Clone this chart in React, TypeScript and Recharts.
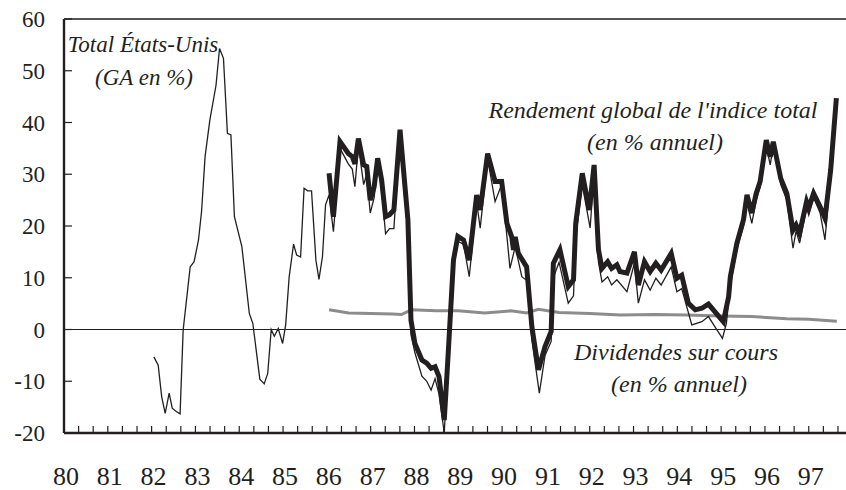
import React from 'react';
import { LineChart, Line, XAxis, YAxis, ReferenceLine } from 'recharts';

// Total Etats-Unis (GA en %) - thin line
const totalYears = [
  82.05, 82.15, 82.23, 82.31, 82.40, 82.47, 82.57, 82.65, 82.72, 82.88, 82.97,
  83.07, 83.14, 83.22, 83.33, 83.47, 83.55, 83.64, 83.73, 83.81, 83.89,
  84.06, 84.23, 84.31, 84.47, 84.57, 84.65, 84.73, 84.80, 84.89, 84.99,
  85.06, 85.14, 85.24, 85.31, 85.40, 85.48, 85.56, 85.65, 85.75, 85.82, 85.90, 85.97,
  86.05, 86.15, 86.30, 86.49, 86.58, 86.64, 86.72, 86.84, 86.91, 86.99,
  87.08, 87.16, 87.25, 87.34, 87.43, 87.53, 87.67, 87.77, 87.85, 87.92,
  88.01, 88.17, 88.28, 88.38, 88.47, 88.56, 88.68, 88.77, 88.89, 88.99,
  89.12, 89.25, 89.42, 89.50, 89.67, 89.84, 89.99,
  90.11, 90.18, 90.30, 90.45, 90.56, 90.68, 90.85, 90.98,
  91.12, 91.17, 91.30, 91.51, 91.63, 91.68, 91.83, 92.01,
  92.10, 92.20, 92.28, 92.41, 92.50, 92.62, 92.85,
  93.02, 93.11, 93.25, 93.38, 93.51, 93.63, 93.86, 93.99,
  94.10, 94.33, 94.56, 94.71, 94.86, 95.03,
  95.12, 95.21, 95.36, 95.51, 95.59, 95.70, 95.80, 95.89,
  96.03, 96.12, 96.19, 96.36, 96.50, 96.64, 96.71, 96.79, 96.95,
  97.00, 97.11, 97.26, 97.37, 97.50, 97.63,
];
const totalValues = [
  -5.3, -6.9, -13.0, -16.2, -12.3, -15.2, -15.9, -16.3, -0.1, 12.1, 13.1,
  17.3, 22.8, 33.4, 40.5, 47.2, 54.3, 52.4, 37.9, 37.6, 21.8,
  16.0, 3.1, 1.2, -9.6, -10.5, -8.5, 0.0, -1.3, 0.2, -2.7,
  0.9, 10.2, 16.5, 14.4, 14.0, 27.3, 26.8, 26.8, 13.4, 9.7, 14.1, 24.1,
  26.0, 18.9, 35.0, 32.0, 31.0, 27.6, 35.5, 28.0, 30.0, 22.5,
  25.5, 32.0, 27.0, 18.5, 19.5, 19.5, 37.5, 26.0, 19.0, -1.0,
  -4.5, -9.0, -10.0, -11.7, -9.5, -12.5, -20.0, -6.0, 12.0, 17.0,
  16.5, 10.2, 24.5, 19.6, 33.0, 24.7, 28.0,
  18.0, 11.8, 16.0, 10.2, 9.5, -2.0, -12.3, -5.0,
  -2.3, 10.0, 13.0, 5.1, 6.5, 17.5, 28.0, 19.6,
  30.5, 13.0, 9.2, 10.2, 8.6, 9.6, 7.3,
  12.8, 5.1, 9.6, 7.6, 9.9, 8.6, 12.1, 7.3,
  7.9, 0.9, 1.5, 2.5, 0.5, -1.7,
  1.2, 8.5, 15.5, 20.0, 24.5, 20.5, 25.0, 27.5,
  35.5, 31.8, 35.5, 28.0, 25.0, 15.7, 19.0, 16.7, 23.5,
  22.1, 25.5, 22.5, 17.3, 30.0, 44.0,
];

// Rendement global de l'indice total - thick line
const rendYears = [
  86.05, 86.15, 86.30, 86.49, 86.58, 86.64, 86.72, 86.84, 86.91, 86.99,
  87.08, 87.16, 87.25, 87.34, 87.43, 87.53, 87.67, 87.77, 87.85, 87.92,
  88.01, 88.17, 88.28, 88.38, 88.47, 88.56, 88.68, 88.77, 88.89, 88.99,
  89.12, 89.25, 89.42, 89.50, 89.67, 89.84, 89.99,
  90.11, 90.22, 90.26, 90.30, 90.37, 90.56, 90.68, 90.83, 90.98,
  91.12, 91.17, 91.32, 91.51, 91.63, 91.68, 91.83, 91.99,
  92.10, 92.20, 92.28, 92.41, 92.50, 92.62, 92.69, 92.85,
  93.02, 93.11, 93.25, 93.38, 93.51, 93.63, 93.86, 93.99,
  94.10, 94.25, 94.41, 94.56, 94.71, 94.86, 95.05,
  95.17, 95.21, 95.36, 95.51, 95.59, 95.70, 95.80, 95.89,
  96.03, 96.12, 96.19, 96.36, 96.50, 96.64, 96.71, 96.79, 96.95,
  97.00, 97.11, 97.26, 97.37, 97.50, 97.63,
];
const rendValues = [
  30.2, 21.8, 36.3, 34.0, 33.4, 32.0, 36.9, 31.8, 31.5, 25.0,
  27.6, 33.1, 28.9, 21.8, 22.2, 23.1, 38.6, 28.9, 21.2, 1.8,
  -2.7, -5.9, -6.5, -7.5, -7.2, -9.1, -17.5, -4.6, 13.4, 18.0,
  17.3, 13.4, 26.0, 23.1, 34.0, 28.6, 28.6,
  20.5, 17.9, 15.4, 17.9, 14.7, 12.1, 0.5, -7.8, -3.3,
  -0.4, 12.8, 15.4, 8.3, 9.6, 20.5, 30.2, 23.1,
  31.8, 15.4, 11.8, 13.1, 11.8, 12.5, 11.2, 10.9,
  15.0, 8.6, 13.1, 11.2, 12.8, 11.5, 14.7, 9.9,
  10.5, 5.1, 3.8, 4.1, 4.9, 3.4, 1.5,
  6.3, 10.2, 16.7, 21.2, 26.0, 22.5, 26.3, 28.6,
  36.6, 33.4, 36.3, 29.2, 26.3, 19.2, 20.2, 18.6, 24.7,
  23.5, 26.3, 23.7, 21.5, 30.8, 44.7,
];

// Dividendes sur cours - grey line
const divYears = [
  86.05, 86.5, 87.0, 87.5, 87.7, 87.93, 88.5, 89.0, 89.6, 90.2, 90.56, 90.83,
  91.3, 92.0, 92.7, 93.5, 94.2, 95.0, 95.7, 96.5, 97.0, 97.64,
];
const divValues = [
  3.8, 3.2, 3.1, 3.0, 2.9, 3.8, 3.6, 3.6, 3.2, 3.6, 3.2, 3.9,
  3.3, 3.1, 2.8, 2.9, 2.8, 2.6, 2.5, 2.1, 2.0, 1.6,
];

const yTicks = [-20, -10, 0, 10, 20, 30, 40, 50, 60];
const yearLabels = ['80', '81', '82', '83', '84', '85', '86', '87', '88', '89', '90', '91', '92', '93', '94', '95', '96', '97'];
// three small ticks per year
const xTicks: number[] = [];
for (let i = 0; i <= 53; i++) xTicks.push(80 + i / 3);

const toPoints = (xs: number[], ys: number[]) => xs.map((x, i) => ({ x, y: ys[i] }));

const totalData = toPoints(totalYears, totalValues);
const rendData = toPoints(rendYears, rendValues);
const divData = toPoints(divYears, divValues);

const FONT = 'Liberation Serif';
const INK = '#231f20';

const XTick = (props: any) => {
  const { x, y, payload } = props;
  const v = payload.value;
  const k = Math.round((v - 80) * 3);
  const isYear = k % 3 === 0;
  const label = yearLabels[k / 3];
  return (
    <g>
      {k > 0 && <line x1={x} x2={x} y1={y} y2={y - 7} stroke={INK} strokeWidth={1.2} />}
      {isYear && label && (
        <text x={x + 2} y={y + 52} textAnchor="middle" style={{ fontFamily: FONT, fontSize: 26, fill: INK }}>
          {label}
        </text>
      )}
    </g>
  );
};

const YTick = (props: any) => {
  const { x, y, payload } = props;
  return (
    <g>
      {payload.value > -20 && <line x1={x} x2={x + 8} y1={y} y2={y} stroke={INK} strokeWidth={1.2} />}
      <text x={x - 19} y={y} dy={8} textAnchor="end" style={{ fontFamily: FONT, fontSize: 23, fill: INK }}>
        {payload.value}
      </text>
    </g>
  );
};

const italic: React.CSSProperties = { fontFamily: FONT, fontStyle: 'italic', fontSize: 24, fill: INK };
const italicSmall: React.CSSProperties = { ...italic, fontSize: 23 };

export default function App() {
  return (
    <div style={{ position: 'absolute', left: 0, top: 0, width: 846, height: 490, background: '#fff', fontFamily: FONT }}>
      <LineChart width={846} height={490} margin={{ top: 19, right: 0, left: 0, bottom: 0 }}>
        <XAxis
          type="number"
          dataKey="x"
          domain={[80, 97.85]}
          allowDataOverflow
          ticks={xTicks}
          interval={0}
          tick={<XTick />}
          tickLine={false}
          tickSize={0}
          tickMargin={0}
          height={57}
          axisLine={{ stroke: INK, strokeWidth: 2.4 }}
        />
        <YAxis
          type="number"
          dataKey="y"
          domain={[-20, 60]}
          ticks={yTicks}
          interval={0}
          tick={<YTick />}
          tickLine={false}
          tickSize={0}
          tickMargin={0}
          width={64}
          axisLine={{ stroke: INK, strokeWidth: 2.4 }}
        />
        <ReferenceLine y={60} stroke="#555" strokeWidth={2} ifOverflow="visible" />
        <ReferenceLine y={0} stroke={INK} strokeWidth={1.2} />
        <Line
          data={divData}
          dataKey="y"
          type="linear"
          stroke="#8c8c8c"
          strokeWidth={3}
          dot={false}
          isAnimationActive={false}
        />
        <Line
          data={rendData}
          dataKey="y"
          type="linear"
          stroke={INK}
          strokeWidth={5}
          dot={false}
          isAnimationActive={false}
        />
        <Line
          data={totalData}
          dataKey="y"
          type="linear"
          stroke={INK}
          strokeWidth={1.3}
          dot={false}
          isAnimationActive={false}
        />
        <text x={143} y={52} textAnchor="middle" style={italicSmall}>Total États-Unis</text>
        <text x={144} y={85} textAnchor="middle" style={italicSmall}>(GA en %)</text>
        <text x={653} y={118} textAnchor="middle" style={italic}>Rendement global de l'indice total</text>
        <text x={655} y={150} textAnchor="middle" style={italic}>(en % annuel)</text>
        <text x={676} y={360} textAnchor="middle" style={italic}>Dividendes sur cours</text>
        <text x={679} y={392} textAnchor="middle" style={italic}>(en % annuel)</text>
      </LineChart>
    </div>
  );
}
